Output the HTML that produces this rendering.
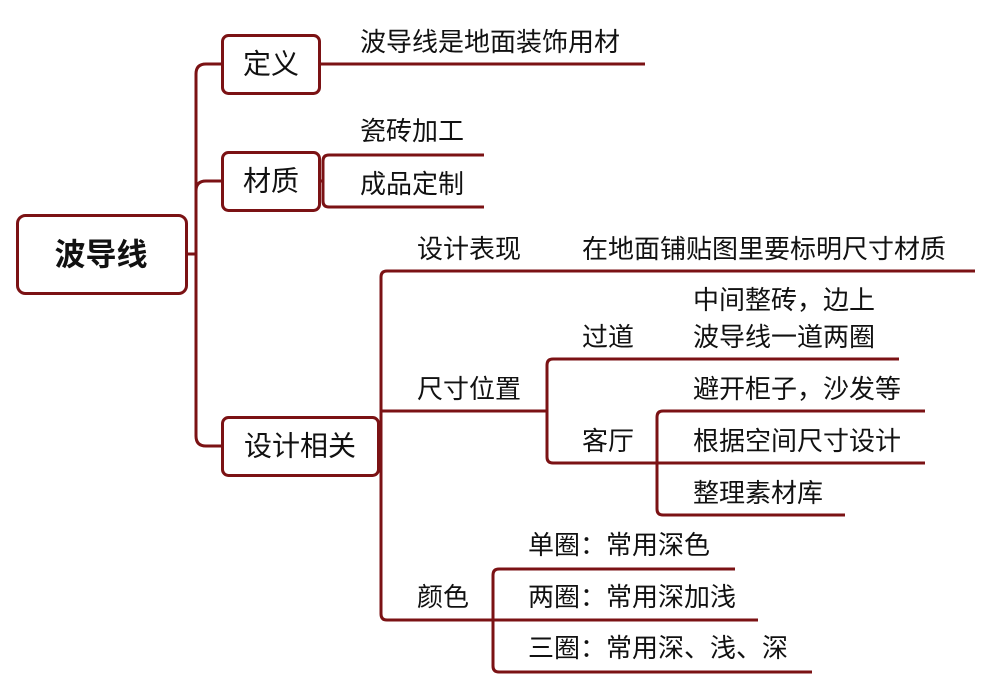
<!DOCTYPE html>
<html><head><meta charset="utf-8"><style>
html,body{margin:0;padding:0;background:#fff;}
svg text{font-family:"Liberation Sans","Noto Sans CJK SC",sans-serif;font-size:26px;fill:#111;dominant-baseline:central;}
</style></head><body>
<svg width="995" height="689" viewBox="0 0 995 689" xmlns="http://www.w3.org/2000/svg">
<g fill="none" stroke="#7b1214" stroke-width="3">
<rect x="17.5" y="215.5" width="169" height="78" rx="8"/>
<rect x="222.5" y="35.5" width="97" height="58" rx="6"/>
<rect x="222.5" y="152.5" width="97" height="58" rx="6"/>
<rect x="222.5" y="417.5" width="156" height="58" rx="6"/>
<path d="M186 254H196"/>
<path d="M222 64H206Q196 64 196 74V436Q196 446 206 446H222"/>
<path d="M196 191Q196 181 206 181H222"/>
<path d="M319 64H645"/>
<path d="M319 181H323"/>
<path d="M484 155H329Q323 155 323 161V201Q323 207 329 207H484"/>
<path d="M378 446H381"/>
<path d="M975 271H387Q381 271 381 277V614Q381 620 387 620H758"/>
<path d="M381 411H547"/>
<path d="M899 359H553Q547 359 547 365V457Q547 463 553 463H657"/>
<path d="M925 411H663Q657 411 657 417V509Q657 515 663 515H845"/>
<path d="M657 463H925"/>
<path d="M735 569H499Q493 569 493 575V666Q493 672 499 672H812"/>
</g>
<text x="101" y="255" text-anchor="middle" style="font-weight:bold;font-size:31px">波导线</text>
<text x="271" y="64" text-anchor="middle" style="font-size:28px">定义</text>
<text x="271" y="181" text-anchor="middle" style="font-size:28px">材质</text>
<text x="300" y="446" text-anchor="middle" style="font-size:28px">设计相关</text>
<text x="360" y="42">波导线是地面装饰用材</text>
<text x="360" y="131">瓷砖加工</text>
<text x="360" y="184">成品定制</text>
<text x="417" y="249">设计表现</text>
<text x="582" y="249">在地面铺贴图里要标明尺寸材质</text>
<text x="417" y="389">尺寸位置</text>
<text x="582" y="337">过道</text>
<text x="693" y="300">中间整砖，边上</text>
<text x="693" y="337">波导线一道两圈</text>
<text x="582" y="441">客厅</text>
<text x="693" y="389">避开柜子，沙发等</text>
<text x="693" y="441">根据空间尺寸设计</text>
<text x="693" y="493">整理素材库</text>
<text x="417" y="597">颜色</text>
<text x="528" y="545">单圈：常用深色</text>
<text x="528" y="597">两圈：常用深加浅</text>
<text x="528" y="648">三圈：常用深、浅、深</text>
</svg>
</body></html>
